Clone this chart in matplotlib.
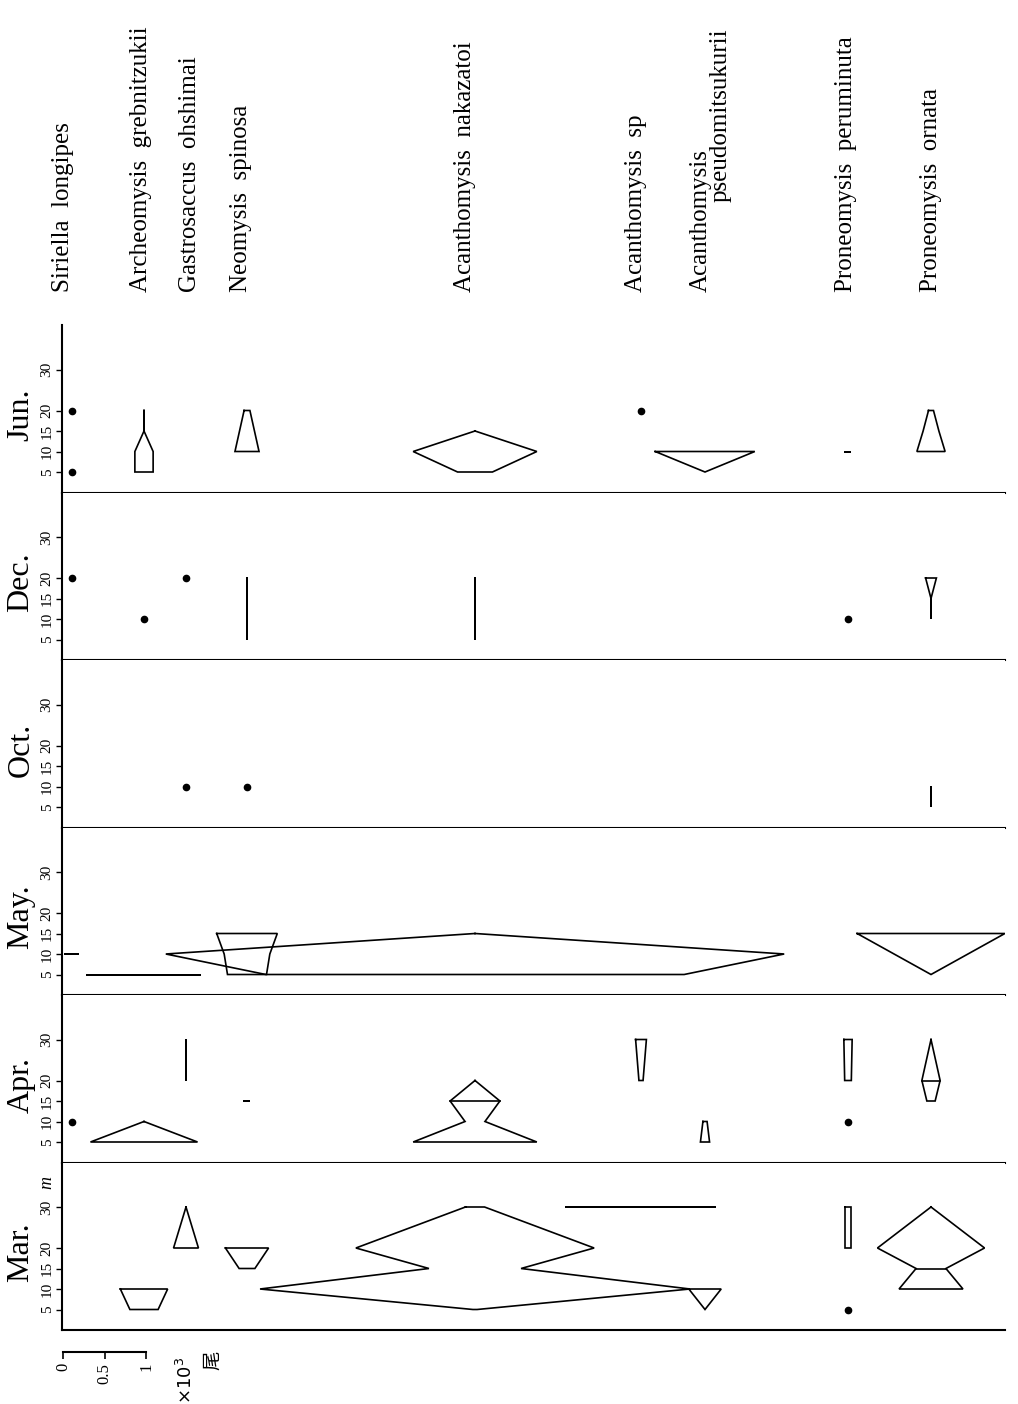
import matplotlib.pyplot as plt
import matplotlib.transforms as mtransforms

# data
months = ["Jun.", "Dec.", "Oct.", "May.", "Apr.", "Mar."]
depth_ticks = [5, 10, 15, 20, 30]
scale_ticks = [0, 0.5, 1]

species_keys = ["siri", "arch", "gast", "neo", "naka", "acsp", "pseu", "peru", "orn"]

# kites: (species, depths in m, width in x10^3 individuals)
jun_kites = [
    ("arch", [20, 15, 10, 5], [0, 0, 0.22, 0.22]),
    ("neo", [20, 15, 10], [0.07, 0.18, 0.29]),
    ("naka", [15, 10, 5], [0, 1.49, 0.42]),
    ("pseu", [10, 5], [1.20, 0]),
    ("peru", [10], [0.08]),
    ("orn", [20, 15, 10], [0.06, 0.19, 0.34]),
]
jun_dots = [("siri", 20), ("siri", 5), ("acsp", 20)]

dec_kites = [
    ("neo", [20, 15, 10, 5], [0, 0, 0, 0]),
    ("naka", [20, 15, 10, 5], [0, 0, 0, 0]),
    ("orn", [20, 15, 10], [0.13, 0, 0]),
]
dec_dots = [("siri", 20), ("arch", 10), ("gast", 20), ("peru", 10)]

oct_kites = [
    ("orn", [10, 5], [0, 0]),
]
oct_dots = [("gast", 10), ("neo", 10)]

may_kites = [
    ("siri", [10], [0.17]),
    ("arch", [5], [1.37]),
    ("neo", [15, 10, 5], [0.73, 0.55, 0.47]),
    ("naka", [15, 10, 5], [0, 7.45, 5.04]),
    ("orn", [15, 10, 5], [1.78, 0.89, 0]),
]
may_dots = []

apr_kites = [
    ("arch", [10, 5], [0, 1.29]),
    ("gast", [30, 20], [0, 0]),
    ("neo", [15], [0.08]),
    ("naka", [20, 15, 10, 5], [0, 0.60, 0.24, 1.49]),
    ("acsp", [30, 20], [0.13, 0.05]),
    ("pseu", [10, 5], [0.05, 0.11]),
    ("peru", [30, 20], [0.10, 0.08]),
    ("orn", [30, 20, 15], [0, 0.22, 0.10]),
]
apr_dots = [("siri", 10), ("peru", 10)]

mar_kites = [
    ("arch", [10, 5], [0.57, 0.34]),
    ("gast", [30, 20], [0, 0.30]),
    ("neo", [20, 15], [0.52, 0.19]),
    ("naka", [30, 20, 15, 10, 5], [0.23, 2.87, 1.11, 5.18, 0.05]),
    ("acsp", [30], [1.80]),
    ("pseu", [10, 5], [0.39, 0]),
    ("peru", [30, 20], [0.07, 0.07]),
    ("orn", [30, 20, 15, 10], [0, 1.29, 0.36, 0.77]),
]
mar_dots = [("peru", 5)]

# depth where a kite has a cross line: (month, species, depth)
cross_lines = [("Apr.", "naka", 15), ("Apr.", "orn", 20), ("Mar.", "orn", 15)]

all_kites = [jun_kites, dec_kites, oct_kites, may_kites, apr_kites, mar_kites]
all_dots = [jun_dots, dec_dots, oct_dots, may_dots, apr_dots, mar_dots]

# layout (pixels)
W, H = 1018, 1404
px_unit = 83.0          # pixels per 1x10^3
ax_left, ax_right = 62, 1005
panel_top, panel_bottom = 325, 1330
col_px = {"siri": 72, "arch": 144, "gast": 186, "neo": 247, "naka": 475,
          "acsp": 641, "pseu": 705, "peru": 848, "orn": 931}
label_px = [("Siriella  longipes", 63), ("Archeomysis  grebnitzukii", 141),
            ("Gastrosaccus  ohshimai", 190), ("Neomysis  spinosa", 241),
            ("Acanthomysis  nakazatoi", 465), ("Acanthomysis  sp", 636),
            ("Acanthomysis", 701), ("Proneomysis  peruminuta", 846),
            ("Proneomysis  ornata", 931)]

serif = "Liberation Serif"
xmax = (ax_right - ax_left) / px_unit
centers = {k: (col_px[k] - ax_left) / px_unit for k in species_keys}

fig = plt.figure(figsize=(W / 100, H / 100), dpi=100)
ph = (panel_bottom - panel_top) / 6

for i, month in enumerate(months):
    top = panel_top + i * ph
    ax = fig.add_axes([ax_left / W, 1 - (top + ph) / H, (ax_right - ax_left) / W, ph / H])
    ax.set_xlim(0, xmax)
    ax.set_ylim(0, ph / 4.1)
    for s in ["top", "right"]:
        ax.spines[s].set_visible(False)
    ax.spines["left"].set_linewidth(1.5)
    ax.spines["bottom"].set_linewidth(1.5)
    ax.set_xticks([])
    ax.set_yticks(depth_ticks)
    ax.set_yticklabels([str(d) for d in depth_ticks], rotation=90, va="center",
                       fontsize=11, family=serif)
    ax.tick_params(axis="y", direction="out", length=4, width=1, pad=2)

    for key, depths, widths in all_kites[i]:
        c = centers[key]
        xs = [c - w / 2 for w in widths] + [c + w / 2 for w in widths[::-1]]
        ys = list(depths) + list(depths[::-1])
        xs.append(xs[0])
        ys.append(ys[0])
        ax.plot(xs, ys, color="k", lw=1.2, solid_joinstyle="miter")
    for mon, key, d in cross_lines:
        if mon != month:
            continue
        for k2, depths, widths in all_kites[i]:
            if k2 == key:
                w = widths[depths.index(d)]
                ax.plot([centers[key] - w / 2, centers[key] + w / 2], [d, d],
                        color="k", lw=1.2)
    for key, d in all_dots[i]:
        ax.plot(centers[key], d, "o", color="k", ms=4.5)

    tr = mtransforms.blended_transform_factory(fig.transFigure, ax.transData)
    ax.text(21 / W, 19, month, transform=tr, rotation=90, ha="center", va="center",
            fontsize=23, family=serif)
    if month == "Mar.":
        ax.text(47 / W, 36, "m", transform=tr, rotation=90, ha="center", va="center",
                fontsize=13, family=serif, style="italic")

# species names
for name, x in label_px:
    fig.text(x / W, 1 - 292 / H, name, rotation=90, ha="center", va="bottom",
             fontsize=18, family=serif)
fig.text(721 / W, 1 - 202 / H, "pseudomitsukurii", rotation=90, ha="center",
         va="bottom", fontsize=18, family=serif)

# scale bar
sax = fig.add_axes([63 / W, 1 - 1352 / H, px_unit / W, 0.001])
sax.set_xlim(0, 1)
sax.set_ylim(0, 1)
for s in ["top", "right", "left"]:
    sax.spines[s].set_visible(False)
sax.spines["bottom"].set_linewidth(1.5)
sax.set_yticks([])
sax.set_xticks(scale_ticks)
sax.set_xticklabels(["0", "0.5", "1"], rotation=90, fontsize=12, family=serif)
sax.tick_params(axis="x", direction="out", length=5, width=1.2, pad=3)
sax.patch.set_visible(False)

fig.text(186 / W, 1 - 1380 / H, r"$\times10^3$", rotation=90, ha="center",
         va="center", fontsize=13)
fig.text(213 / W, 1 - 1360 / H, "尾", rotation=90, ha="center", va="center",
         fontsize=14, family=["Noto Sans CJK JP", "DejaVu Sans"])

fig.savefig("out.png", dpi=100, facecolor="white")
